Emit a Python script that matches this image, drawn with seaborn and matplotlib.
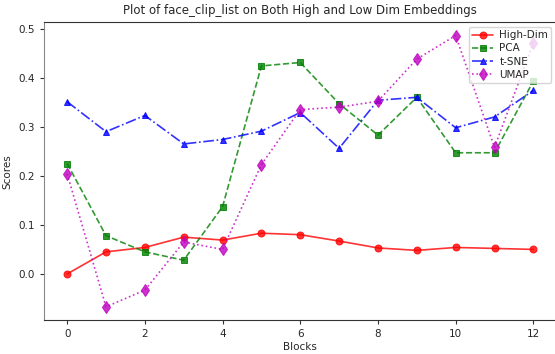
import matplotlib
matplotlib.use("Agg")
import matplotlib.pyplot as plt
import seaborn as sns
import pandas as pd

blocks = list(range(13))
high_dim = [0.0, 0.045, 0.054, 0.075, 0.069, 0.083, 0.080, 0.067, 0.053, 0.048, 0.054, 0.052, 0.050]
pca = [0.225, 0.078, 0.045, 0.028, 0.137, 0.424, 0.431, 0.347, 0.283, 0.360, 0.247, 0.247, 0.393]
tsne = [0.351, 0.290, 0.323, 0.265, 0.274, 0.291, 0.329, 0.256, 0.354, 0.360, 0.298, 0.320, 0.374]
umap = [0.204, -0.067, -0.033, 0.065, 0.050, 0.223, 0.335, 0.340, 0.352, 0.438, 0.486, 0.258, 0.471]

sns.set_style("ticks")
plt.rcParams['font.family'] = ['DejaVu Sans']
plt.rcParams['font.size'] = 7.5

fig, ax = plt.subplots(figsize=(5.55, 3.54), dpi=100)
fig.subplots_adjust(left=0.079, right=1.003, top=0.938, bottom=0.095)

series = [
    ("High-Dim", high_dim, "red", "-", "o"),
    ("PCA", pca, "green", "--", "s"),
    ("t-SNE", tsne, "blue", "-.", "^"),
    ("UMAP", umap, "m", ":", "d"),
]
for name, vals, color, ls, mk in series:
    df = pd.DataFrame({"Blocks": blocks, "Scores": vals})
    sns.lineplot(data=df, x="Blocks", y="Scores", ax=ax, color=color, linestyle=ls,
                 marker=mk, markersize=6 if mk == "d" else 5, markeredgecolor=color,
                 alpha=0.8, label=name, linewidth=1.2)

for sp in ax.spines.values():
    sp.set_color("#333333")
    sp.set_linewidth(0.8)
ax.spines["left"].set_color("#888888")
ax.tick_params(labelsize=7.5, length=3, color="#333333")
ax.set_xlabel("Blocks", fontsize=7.5, labelpad=2)
ax.set_ylabel("Scores", fontsize=7.5)
ax.set_title("Plot of face_clip_list on Both High and Low Dim Embeddings", fontsize=8.5)
ax.legend(loc="upper right", fontsize=7.5, handlelength=2.0, borderpad=0.3,
          labelspacing=0.3, handletextpad=0.6)
fig.savefig("out.png", dpi=100)
